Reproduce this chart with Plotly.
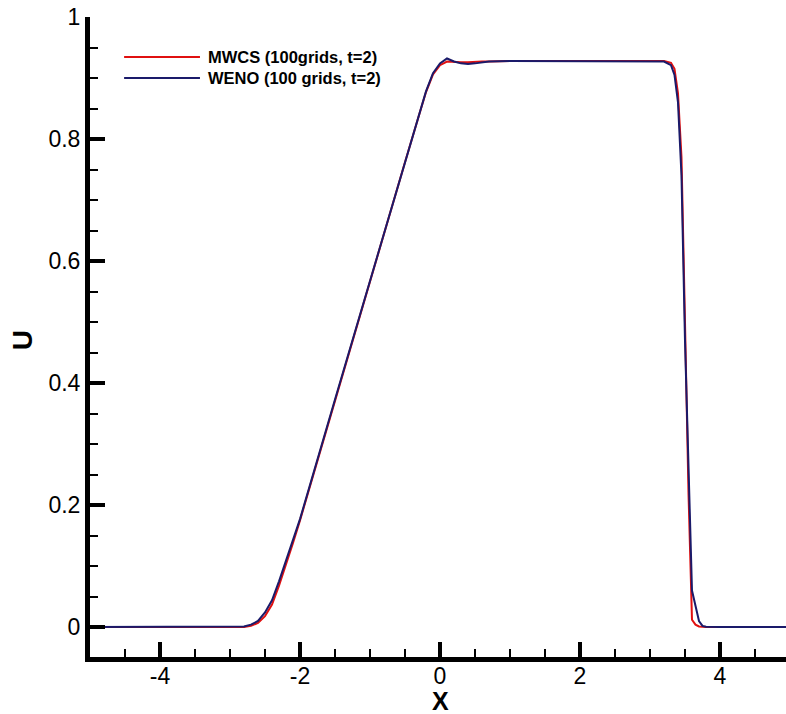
import plotly.graph_objects as go

# ---- data ----
x_mwcs = [-5.0, -4.0, -3.0, -2.9, -2.8, -2.7, -2.6, -2.5, -2.4, -2.3, -2.2, -2.1, -2.0,
          -1.5, -1.0, -0.5, -0.3, -0.2, -0.1, 0.0, 0.1, 0.2, 0.3, 0.4, 0.5, 0.6, 0.7,
          1.0, 2.0, 3.0, 3.2, 3.3, 3.35, 3.4, 3.45, 3.5, 3.55, 3.6, 3.65, 3.7, 3.75, 3.8, 4.0, 5.0]
u_mwcs = [0.0, 0.0, 0.0, 0.0, 0.0, 0.002, 0.007, 0.018, 0.037, 0.068, 0.102, 0.138, 0.175,
          0.372, 0.567, 0.762, 0.839, 0.877, 0.906, 0.921, 0.927, 0.926, 0.926, 0.926, 0.927, 0.927, 0.927,
          0.928, 0.928, 0.928, 0.928, 0.925, 0.915, 0.875, 0.77, 0.50, 0.22, 0.012, 0.004, 0.001, 0.0, 0.0, 0.0, 0.0]

x_weno = [-5.0, -4.0, -3.0, -2.9, -2.8, -2.7, -2.6, -2.5, -2.4, -2.3, -2.2, -2.1, -2.0,
          -1.5, -1.0, -0.5, -0.3, -0.2, -0.1, 0.0, 0.1, 0.2, 0.3, 0.4, 0.5, 0.6, 0.7,
          1.0, 2.0, 3.0, 3.2, 3.3, 3.35, 3.4, 3.45, 3.5, 3.55, 3.6, 3.65, 3.7, 3.75, 3.8, 4.0, 5.0]
u_weno = [0.0, 0.0, 0.0, 0.0005, 0.001, 0.004, 0.010, 0.024, 0.044, 0.075, 0.108, 0.141, 0.177,
          0.373, 0.568, 0.763, 0.840, 0.878, 0.908, 0.924, 0.932, 0.927, 0.924, 0.923, 0.924, 0.926, 0.927,
          0.928, 0.928, 0.928, 0.927, 0.921, 0.905, 0.86, 0.74, 0.47, 0.25, 0.06, 0.035, 0.01, 0.002, 0.0005, 0.0, 0.0]

x_tickvals = [-4, -2, 0, 2, 4]
x_ticktext = ["-4", "-2", "0", "2", "4"]
y_tickvals = [0, 0.2, 0.4, 0.6, 0.8, 1.0]
y_ticktext = ["0", "0.2", "0.4", "0.6", "0.8", "1"]

names = ["MWCS (100grids, t=2)", "WENO (100 grids, t=2)"]
colors = ["#e01010", "#1a1a6a"]

fig = go.Figure()
fig.add_trace(go.Scatter(x=x_mwcs, y=u_mwcs, mode="lines", name=names[0],
                         line=dict(color=colors[0], width=2), showlegend=False))
fig.add_trace(go.Scatter(x=x_weno, y=u_weno, mode="lines", name=names[1],
                         line=dict(color=colors[1], width=2), showlegend=False))

# manual legend (long line samples as in the reference)
leg_y = [0.9375, 0.9047]
for i in range(2):
    fig.add_shape(type="line", xref="paper", yref="paper", x0=0.049, x1=0.158,
                  y0=leg_y[i], y1=leg_y[i], line=dict(color=colors[i], width=2))
    fig.add_annotation(xref="paper", yref="paper", x=0.1667, y=leg_y[i], text=names[i],
                       showarrow=False, xanchor="left", yanchor="middle",
                       font=dict(family="Liberation Sans, Arial", size=16.5, color="black", weight="bold"))

# axis titles
fig.add_annotation(xref="paper", yref="paper", x=0.5029, y=-0.0695, text="X", showarrow=False,
                   xanchor="center", yanchor="middle",
                   font=dict(family="Liberation Sans, Arial", size=25, color="black", weight="bold"))
fig.add_annotation(xref="paper", yref="paper", x=-0.0977, y=0.495, text="U", showarrow=False,
                   xanchor="center", yanchor="middle", textangle=-90,
                   font=dict(family="Liberation Sans, Arial", size=28, color="black", weight="bold"))

axis_font = dict(family="Liberation Sans, Arial", size=23, color="black")

fig.update_xaxes(range=[-5, 4.943], showline=True, linewidth=5, linecolor="black", automargin=False,
                 showgrid=False, zeroline=False, ticks="inside", ticklen=15, tickwidth=4,
                 tickcolor="black", tickvals=x_tickvals, ticktext=x_ticktext, tickfont=axis_font,
                 ticklabelstandoff=-6,
                 minor=dict(dtick=0.5, ticks="inside", ticklen=8, tickwidth=1.5, tickcolor="black", showgrid=False))
fig.update_yaxes(range=[-0.049, 1.0], showline=True, linewidth=5, linecolor="black", automargin=False,
                 showgrid=False, zeroline=False, ticks="inside", ticklen=15, tickwidth=4,
                 tickcolor="black", tickvals=y_tickvals, ticktext=y_ticktext, tickfont=axis_font,
                 minor=dict(dtick=0.05, ticks="inside", ticklen=8, tickwidth=1.5, tickcolor="black", showgrid=False))

fig.update_layout(width=786, height=714, margin=dict(l=90, r=0, t=17, b=57),
                  plot_bgcolor="white", paper_bgcolor="white")

fig.write_html("out.html")
